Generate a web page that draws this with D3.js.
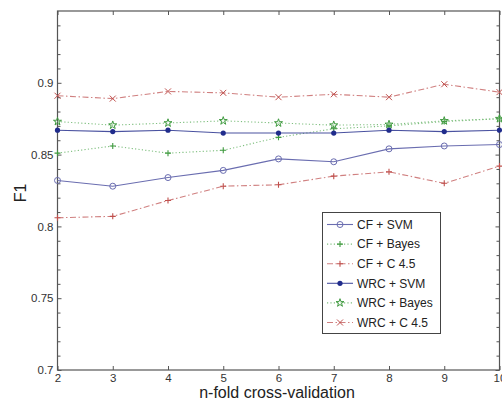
<!DOCTYPE html>
<html>
<head>
<meta charset="utf-8">
<script src="https://cdn.jsdelivr.net/npm/d3@7"></script>
<style>
  body { margin: 0; background: #fff; }
  svg { display: block; font-family: "Liberation Sans", Arial, sans-serif; }
</style>
</head>
<body>
<div id="chart"></div>
<script>
// folds on the x axis
var folds = [2, 3, 4, 5, 6, 7, 8, 9, 10];

// F1 per fold
var cfSvm    = [0.832, 0.828, 0.834, 0.839, 0.847, 0.845, 0.854, 0.856, 0.857];
var cfBayes  = [0.851, 0.856, 0.851, 0.853, 0.862, 0.868, 0.870, 0.873, 0.875];
var cfC45    = [0.806, 0.807, 0.818, 0.828, 0.829, 0.835, 0.838, 0.830, 0.842];
var wrcSvm   = [0.867, 0.866, 0.867, 0.865, 0.865, 0.865, 0.867, 0.866, 0.867];
var wrcBayes = [0.873, 0.8705, 0.872, 0.8735, 0.872, 0.8705, 0.871, 0.8735, 0.875];
var wrcC45   = [0.891, 0.889, 0.894, 0.893, 0.890, 0.892, 0.890, 0.899, 0.8935];

var seriesNames = ["CF + SVM", "CF + Bayes", "CF + C 4.5", "WRC + SVM", "WRC + Bayes", "WRC + C 4.5"];
var seriesValues = [cfSvm, cfBayes, cfC45, wrcSvm, wrcBayes, wrcC45];

var xTicks = [2, 3, 4, 5, 6, 7, 8, 9, 10];
var yTicks = [0.7, 0.75, 0.8, 0.85, 0.9];
var yTickLabels = ["0.7", "0.75", "0.8", "0.85", "0.9"];

// look of each series (colour, dash, marker)
var styles = [
    { color: "#6a6db0", dash: null,            marker: "circle" },
    { color: "#3f9a3f", dash: "1.2,2.2",       marker: "plus" },
    { color: "#c0504d", dash: "6,2.5,1.5,2.5", marker: "plus" },
    { color: "#202c8c", dash: null,            marker: "dot" },
    { color: "#3f9a3f", dash: "1.2,2.2",       marker: "star" },
    { color: "#c0504d", dash: "6,2.5,1.5,2.5", marker: "cross" }
];
var lineColors = ["#6a6db0", "#7fbf7f", "#d08080", "#4a52a0", "#7fbf7f", "#d08080"];

var width = 502, height = 400;
var plotLeft = 57.5, plotRight = 499.5, plotTop = 11, plotBottom = 370;

var svg = d3.select("#chart").append("svg")
    .attr("width", width)
    .attr("height", height);

var x = d3.scaleLinear().domain([2, 10]).range([plotLeft, plotRight]);
var y = d3.scaleLinear().domain([0.7, 0.95]).range([plotBottom, plotTop]);

var axisColor = "#555";

// minor ticks every 0.01
var minor = d3.range(71, 95).map(function (v) { return v / 100; })
    .filter(function (v) { return Math.round(v * 100) % 5 !== 0; });

function styleAxis(g) {
    g.select(".domain").remove();
    g.selectAll("line").attr("stroke", axisColor);
    g.selectAll("text").attr("fill", "#333").style("font-size", "11.5px")
        .style("font-family", "'Liberation Sans', Arial, sans-serif");
}

svg.append("g")
    .attr("transform", "translate(0," + plotBottom + ")")
    .call(d3.axisBottom(x).tickValues(xTicks).tickSize(-4).tickPadding(4)
        .tickFormat(d3.format("d")))
    .call(styleAxis);

svg.append("g")
    .attr("transform", "translate(0," + plotTop + ")")
    .call(d3.axisTop(x).tickValues(xTicks).tickSize(-4).tickFormat(""))
    .call(styleAxis);

svg.append("g")
    .attr("transform", "translate(" + plotLeft + ",0)")
    .call(d3.axisLeft(y).tickValues(yTicks).tickSize(-4).tickPadding(4)
        .tickFormat(function (d, i) { return yTickLabels[i]; }))
    .call(styleAxis);

svg.append("g")
    .attr("transform", "translate(" + plotRight + ",0)")
    .call(d3.axisRight(y).tickValues(yTicks).tickSize(-4).tickFormat(""))
    .call(styleAxis);

svg.append("g")
    .attr("transform", "translate(" + plotLeft + ",0)")
    .call(d3.axisLeft(y).tickValues(minor).tickSize(-3).tickFormat(""))
    .call(styleAxis);

svg.append("g")
    .attr("transform", "translate(" + plotRight + ",0)")
    .call(d3.axisRight(y).tickValues(minor).tickSize(-3).tickFormat(""))
    .call(styleAxis);

// frame
svg.append("rect")
    .attr("x", plotLeft).attr("y", plotTop)
    .attr("width", plotRight - plotLeft).attr("height", plotBottom - plotTop)
    .attr("fill", "none").attr("stroke", axisColor).attr("stroke-width", 1.2);

var line = d3.line()
    .x(function (d, i) { return x(folds[i]); })
    .y(function (d) { return y(d); });

function drawMarker(g, type, cx, cy, color) {
    if (type === "circle") {
        g.append("circle").attr("cx", cx).attr("cy", cy).attr("r", 3)
            .attr("fill", "none").attr("stroke", color).attr("stroke-width", 1);
    } else if (type === "dot") {
        g.append("circle").attr("cx", cx).attr("cy", cy).attr("r", 2.6)
            .attr("fill", color);
    } else if (type === "plus") {
        g.append("path")
            .attr("d", "M" + (cx - 3) + "," + cy + "H" + (cx + 3) + "M" + cx + "," + (cy - 3) + "V" + (cy + 3))
            .attr("stroke", color).attr("stroke-width", 1.1);
    } else if (type === "cross") {
        g.append("path")
            .attr("d", "M" + (cx - 3) + "," + (cy - 3) + "L" + (cx + 3) + "," + (cy + 3) +
                "M" + (cx - 3) + "," + (cy + 3) + "L" + (cx + 3) + "," + (cy - 3))
            .attr("stroke", color).attr("stroke-width", 1);
    } else if (type === "star") {
        g.append("path")
            .attr("d", d3.symbol().type(d3.symbolStar).size(20)())
            .attr("transform", "translate(" + cx + "," + cy + ")")
            .attr("fill", "none").attr("stroke", color).attr("stroke-width", 1);
    }
}

seriesValues.forEach(function (vals, s) {
    var st = styles[s];
    var g = svg.append("g");
    g.append("path")
        .datum(vals)
        .attr("d", line)
        .attr("fill", "none")
        .attr("stroke", lineColors[s])
        .attr("stroke-width", 1.1)
        .attr("stroke-dasharray", st.dash);
    vals.forEach(function (v, i) {
        drawMarker(g, st.marker, x(folds[i]), y(v), st.color);
    });
});

// legend
var legend = svg.append("g");
legend.append("rect")
    .attr("x", 322.5).attr("y", 212.5)
    .attr("width", 118).attr("height", 121)
    .attr("fill", "#fff").attr("stroke", "#444").attr("stroke-width", 1);

seriesNames.forEach(function (name, s) {
    var ly = 224.5 + s * 19.6;
    legend.append("line")
        .attr("x1", 327).attr("x2", 353)
        .attr("y1", ly).attr("y2", ly)
        .attr("stroke", lineColors[s]).attr("stroke-width", 1.1)
        .attr("stroke-dasharray", styles[s].dash);
    drawMarker(legend, styles[s].marker, 340, ly, styles[s].color);
    legend.append("text")
        .attr("x", 357).attr("y", ly + 4.3)
        .style("font-size", "12px")
        .attr("fill", "#222")
        .text(name);
});

// axis titles
svg.append("text")
    .attr("x", 277).attr("y", 397.5)
    .attr("text-anchor", "middle")
    .style("font-size", "16px")
    .attr("fill", "#222")
    .text("n-fold cross-validation");

svg.append("text")
    .attr("transform", "translate(26,193) rotate(-90)")
    .attr("text-anchor", "middle")
    .style("font-size", "16px")
    .attr("fill", "#222")
    .text("F1");
</script>
</body>
</html>
